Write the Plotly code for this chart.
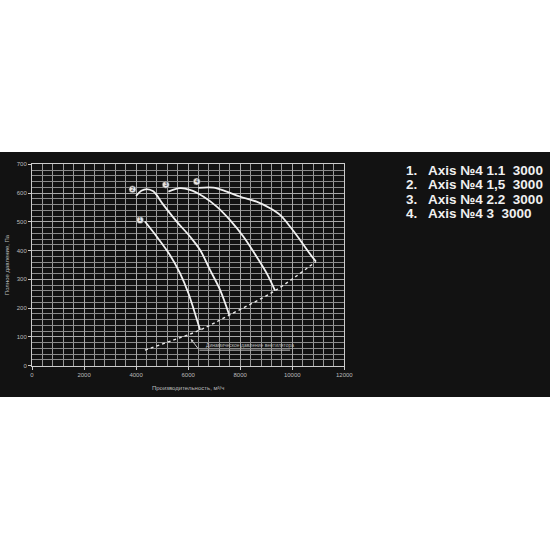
import plotly.graph_objects as go

# кривые вентиляторов (производительность, м3/ч ; полное давление, Па)
q1 = [4340, 4790, 5300, 5690, 6010, 6260, 6460]
p1 = [501, 449, 385, 321, 252, 182, 124]

q2 = [4000, 4200, 4410, 4660, 5050, 5560, 6070, 6460, 6840, 7230, 7580]
p2 = [590, 608, 614, 606, 559, 501, 449, 402, 333, 263, 176]

q3 = [5240, 5690, 6070, 6580, 7100, 7610, 8120, 8630, 9020, 9340]
p3 = [605, 617, 611, 588, 553, 506, 449, 379, 321, 261]

q4 = [6390, 6970, 7480, 7990, 8630, 9150, 9530, 9920, 10300, 10620, 10910]
p4 = [618, 619, 605, 588, 570, 547, 524, 483, 437, 396, 362]

# динамическое давление вентилятора
q_dyn = [4340, 5400, 6460, 7580, 9340, 10910]
p_dyn = [54, 88, 124, 176, 261, 362]

# номера кривых
num_q = [4150, 3860, 5140, 6330]
num_p = [506, 613, 629, 640]
num_txt = ["1", "2", "3", "4"]

legend_lines = ["1.   Axis №4 1.1  3000",
                "2.   Axis №4 1,5  3000",
                "3.   Axis №4 2.2  3000",
                "4.   Axis №4 3  3000"]

W, H = 550, 550
fig = go.Figure()

for q, p in [(q1, p1), (q2, p2), (q3, p3), (q4, p4)]:
    fig.add_trace(go.Scatter(x=q, y=p, mode="lines", line=dict(color="#f2f2f2", width=1.8, shape="spline"),
                             showlegend=False, hoverinfo="skip"))

fig.add_trace(go.Scatter(x=q_dyn, y=p_dyn, mode="lines", line=dict(color="#e8e8e8", width=1.4, dash="dot", shape="spline"),
                         showlegend=False, hoverinfo="skip"))

fig.add_trace(go.Scatter(x=num_q, y=num_p, mode="markers+text", text=num_txt,
                         marker=dict(size=7, color="#e6e6e6", line=dict(color="#444", width=0.5)),
                         textfont=dict(size=5, color="#222", family="Liberation Sans"),
                         textposition="middle center", showlegend=False, hoverinfo="skip"))

# подпись со стрелкой
fig.add_annotation(x=6100, y=93, ax=6430, ay=54, axref="x", ayref="y", xref="x", yref="y",
                   text="", showarrow=True, arrowhead=2, arrowsize=0.6, arrowwidth=1, arrowcolor="#cccccc")
fig.add_shape(type="line", x0=6430, y0=54, x1=9920, y1=54, xref="x", yref="y",
              line=dict(color="#bbbbbb", width=1))
fig.add_annotation(x=6600, y=72, xref="x", yref="y", text="Динамическое давление вентилятора",
                   showarrow=False, xanchor="left", font=dict(size=5, color="#bbbbbb", family="Liberation Sans"))

# тёмная полоса
fig.add_shape(type="rect", xref="paper", yref="paper", x0=0, x1=1, y0=(H - 397) / H, y1=(H - 152) / H,
              fillcolor="#121212", line=dict(width=0), layer="below")

for i, t in enumerate(legend_lines):
    fig.add_annotation(xref="paper", yref="paper", x=404 / W, y=(H - 170 - i * 14.5) / H, text=t,
                       showarrow=False, xanchor="left", yanchor="middle",
                       font=dict(size=13.5, color="#f0f0f0", family="Liberation Sans", weight="bold"))

fig.update_layout(
    width=W, height=H,
    margin=dict(l=0, r=0, t=0, b=0),
    paper_bgcolor="white",
    plot_bgcolor="#0b0b0b",
    font=dict(family="Liberation Sans", color="#bbbbbb", size=6),
    xaxis=dict(range=[0, 12000], domain=[32 / W, 344.3 / W], dtick=2000, tick0=0, tickformat="d",
               showgrid=True, gridcolor="#a8a8a8", gridwidth=1,
               minor=dict(dtick=400, showgrid=True, gridcolor="#9a9a9a", gridwidth=1),
               showline=True, linecolor="#cccccc", linewidth=1, mirror=True,
               ticks="outside", ticklen=3, tickcolor="#cccccc", zeroline=False,
               tickfont=dict(size=6, color="#bbbbbb"),
               title=dict(text="Производительность, м³/ч", font=dict(size=6, color="#bbbbbb"), standoff=8),
               automargin=False),
    yaxis=dict(range=[0, 700], domain=[(H - 365.7) / H, (H - 164.3) / H], dtick=100, tick0=0, tickformat="d",
               showgrid=True, gridcolor="#a8a8a8", gridwidth=1,
               minor=dict(dtick=20, showgrid=True, gridcolor="#8c8c8c", gridwidth=1),
               showline=True, linecolor="#cccccc", linewidth=1, mirror=True,
               ticks="outside", ticklen=3, tickcolor="#cccccc", zeroline=False,
               tickfont=dict(size=6, color="#bbbbbb"),
               title=dict(text="Полное давление, Па", font=dict(size=6, color="#bbbbbb"), standoff=6),
               automargin=False),
)

fig.write_html("out.html", config={"displayModeBar": False},
               post_script="document.body.style.margin='0px';")
